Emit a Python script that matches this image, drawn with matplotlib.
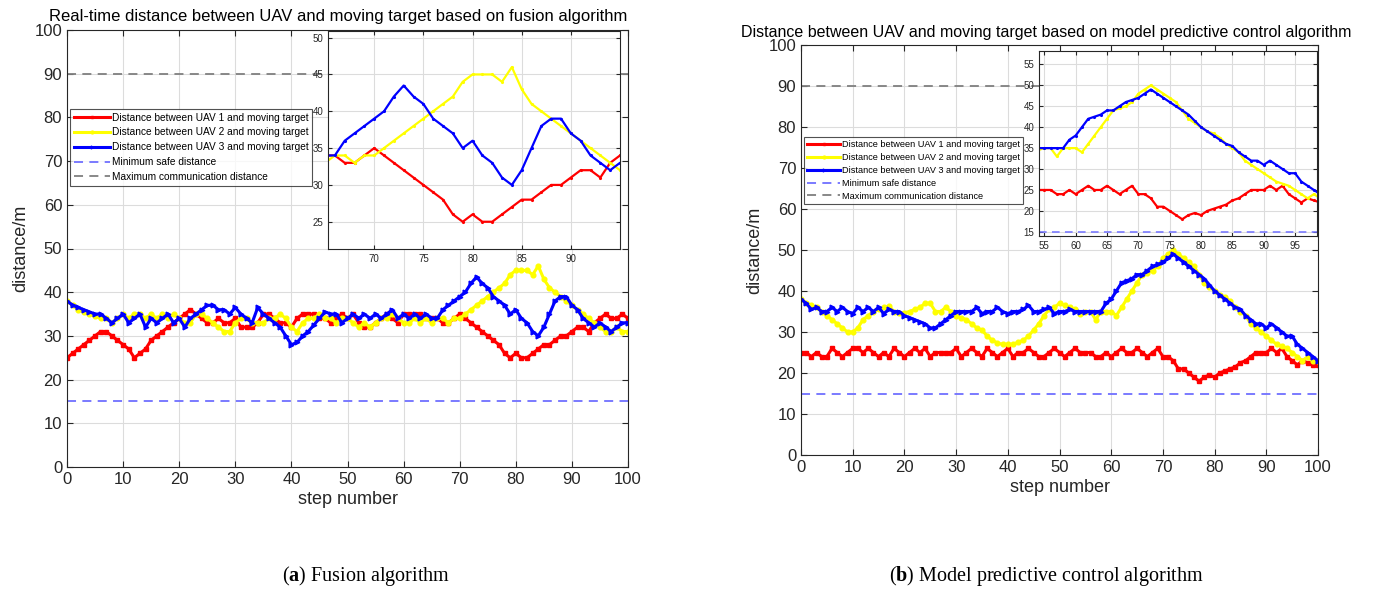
import numpy as np
import matplotlib.pyplot as plt

plt.rcParams['font.family'] = ['Liberation Sans', 'DejaVu Sans']
plt.rcParams['mathtext.fontset'] = 'custom'
plt.rcParams['mathtext.rm'] = 'Liberation Serif'
plt.rcParams['mathtext.bf'] = 'Liberation Serif:bold'

steps = np.arange(0, 101)

# (a) fusion algorithm
fus_uav1 = [25, 26, 27, 28, 29, 30, 31, 31, 30, 29,
            28, 27, 25, 26, 27, 29, 30, 31, 32, 33,
            34, 35, 36, 35, 34, 33, 33, 34, 33, 33,
            34, 32, 32, 32, 33, 35, 35, 34, 33, 33,
            32, 34, 35, 35, 35, 34, 34, 33, 34, 35,
            34, 35, 33, 32, 32, 33, 34, 35, 34, 33,
            35, 35, 35, 35, 34, 34, 34, 33, 33, 34,
            35, 34, 33, 32, 31, 30, 29, 28, 26, 25,
            26, 25, 25, 26, 27, 28, 28, 29, 30, 30,
            31, 32, 32, 31, 33, 34, 35, 34, 34, 35, 34]
fus_uav2 = [38, 37, 36, 35.5, 35, 34.5, 34, 34, 33, 34,
            35, 34, 35, 35, 34, 35, 34, 35, 34, 35,
            34, 33, 33, 35, 35, 34, 33, 32, 31, 31,
            33, 34, 34, 33, 33, 33, 34, 34, 35, 34,
            32, 31, 33, 34, 34, 35, 34, 34, 33, 34,
            34, 33, 32, 33, 32, 33, 34, 34, 35, 34,
            33, 33, 34, 33, 34, 33, 34, 34, 33, 34,
            34, 35, 36, 37, 38, 39, 40, 41, 42, 44,
            45, 45, 45, 44, 46, 43, 41, 40, 39, 38,
            37, 36, 35, 34, 33, 32, 31, 31, 32, 31, 31]
fus_uav3 = [38, 37, 36.5, 36, 35.5, 35, 35, 34, 33, 34,
            35, 33, 34, 35, 32, 34, 33, 34, 35, 33,
            34, 32, 34, 35, 36, 37, 37, 36, 36, 35,
            36.5, 35, 34, 33, 36.5, 35, 34, 33, 32, 30,
            28, 28.5, 30, 31, 32.5, 34, 35.5, 35, 35, 33,
            34, 35, 34, 35, 34, 35, 34, 35, 36, 34,
            35, 34, 35, 34, 35, 34, 34, 36, 37, 38,
            39, 40, 42, 43.5, 42, 41, 39, 38, 37, 35,
            36, 34, 33, 31, 30, 32, 35, 38, 39, 39,
            37, 36, 34, 33, 32, 33, 32, 31, 32, 33, 33]

# (b) model predictive control algorithm
mpc_uav1 = [25, 25, 24, 25, 24, 24, 26, 25, 24, 25,
            26, 26, 25, 26, 25, 24, 25, 24, 26, 25,
            24, 25, 26, 25, 26, 24, 25, 25, 25, 25,
            26, 24, 25, 26, 25, 24, 26, 25, 24, 25,
            26, 24, 25, 25, 26, 25, 24, 24, 25, 26,
            25, 24, 25, 26, 25, 25, 25, 24, 24, 25,
            24, 25, 26, 25, 25, 26, 25, 24, 25, 26,
            24, 24, 23, 21, 21, 20, 19, 18, 19, 19.5,
            19, 20, 20.5, 21, 21.5, 22.5, 23, 24, 25, 25,
            25, 26, 25, 26, 24, 23, 22, 23, 22.5, 22, 22]
mpc_uav2 = [38, 37, 36.5, 36, 35, 34, 33, 32, 31, 30,
            30, 31, 33, 34, 35, 35.5, 36, 36.3, 35, 34.7,
            34.7, 35, 35.5, 36, 37, 37, 35, 35, 36, 35,
            34, 33.5, 33, 32, 31, 30.5, 29, 28, 27.3, 27,
            27, 27, 27.5, 28, 29, 30.5, 32, 34, 35.5, 36,
            37, 36.5, 36, 35.5, 34.5, 35, 35, 33, 35, 35,
            35, 34, 36, 38, 40, 42, 44, 44.5, 45, 46,
            48, 49, 50, 49, 48, 47, 46, 44, 42, 41,
            40, 39, 38.5, 37.5, 36, 35, 34, 32, 31, 30,
            29, 28, 27, 26.5, 26, 25, 24, 23, 24, 23, 23]
mpc_uav3 = [38, 37, 35.5, 36, 35, 35, 36, 35, 36, 35,
            34.5, 36, 35, 36, 35, 36, 34.5, 35.5, 35, 35,
            34, 33.5, 33, 32.5, 32, 31, 31, 32, 33, 34,
            35, 35, 35, 35, 36, 34.5, 35, 35, 36, 35,
            34.5, 35, 35, 35.5, 36.5, 35, 35, 35.5, 36, 34.5,
            35, 35, 35.5, 35, 35, 35, 35, 35, 35, 37,
            38, 40, 42, 42.5, 43, 44, 44, 45, 46, 46.5,
            47, 48, 49, 48, 47, 46, 45, 44, 43, 41.5,
            40, 39, 38, 37, 36, 35.5, 34, 33, 32, 32,
            31, 32, 31, 30, 29, 29, 27, 26, 25, 24, 23]

min_safe = 15
max_comm = 90

labels = ['Distance between UAV 1 and moving target',
          'Distance between UAV 2 and moving target',
          'Distance between UAV 3 and moving target',
          'Minimum safe distance',
          'Maximum communication distance']
colors = ['#ff0000', '#ffff00', '#0000ff']
markers = ['s', 'o', '>']
tick_col = '#262626'

W, H = 1397, 594
fig = plt.figure(figsize=(W / 100, H / 100), dpi=100)


def px_axes(x0, y0, x1, y1):
    return fig.add_axes([x0 / W, 1 - y1 / H, (x1 - x0) / W, (y1 - y0) / H])


def style(ax, fs):
    ax.grid(True, color='#dcdcdc', linewidth=0.8)
    ax.set_axisbelow(True)
    ax.tick_params(direction='in', top=True, right=True, labelsize=fs,
                   colors=tick_col, length=4)
    for s in ax.spines.values():
        s.set_color('#262626')
        s.set_linewidth(0.8)


def panel(main_box, ins_box, series, ins_xlim, ins_ylim, ins_xt, ins_yt,
          leg_xy, leg_fs, leg_sp):
    ax = px_axes(*main_box)
    hs = []
    for y, c, m, lab in zip(series, colors, markers, labels[:3]):
        h, = ax.plot(steps, y, color=c, lw=2.2, marker=m, ms=3.4,
                     mec=c, mfc=c, label=lab)
        hs.append(h)
    h4 = ax.axhline(min_safe, color='#7070ff', lw=1.3, ls=(0, (5, 3.5)),
                    label=labels[3])
    h5 = ax.axhline(max_comm, color='#7f7f7f', lw=1.3, ls=(0, (5, 3.5)),
                    label=labels[4])
    ax.set_xlim(0, 100)
    ax.set_ylim(0, 100)
    ax.set_xticks(np.arange(0, 101, 10))
    ax.set_yticks(np.arange(0, 101, 10))
    style(ax, 12)
    ax.set_xlabel('step number', fontsize=13, color=tick_col, labelpad=3)
    ax.set_ylabel('distance/m', fontsize=13, color=tick_col, labelpad=4)
    leg = ax.legend(handles=hs + [h4, h5], loc='upper left',
                    bbox_to_anchor=(leg_xy[0] / W, 1 - leg_xy[1] / H),
                    bbox_transform=fig.transFigure, fontsize=leg_fs,
                    frameon=True, fancybox=False, borderaxespad=0,
                    handlelength=3.6, handletextpad=0.2, labelspacing=leg_sp,
                    borderpad=0.35, markerscale=0.6)
    leg.get_frame().set_edgecolor('#262626')
    leg.get_frame().set_linewidth(0.8)

    ins = px_axes(*ins_box)
    for y, c in zip(series, colors):
        ins.plot(steps, y, color=c, lw=1.6, marker='.', ms=2.5)
    ins.axhline(min_safe, color='#7070ff', lw=1.1, ls=(0, (5, 3.5)))
    ins.set_xlim(*ins_xlim)
    ins.set_ylim(*ins_ylim)
    ins.set_xticks(ins_xt)
    ins.set_yticks(ins_yt)
    style(ins, 7)
    ins.tick_params(length=3)
    return ax


panel((67, 30, 628, 467), (328, 31, 620, 249),
      [fus_uav1, fus_uav2, fus_uav3], (65.3, 95), (21.3, 50.9),
      np.arange(70, 91, 5), np.arange(25, 51, 5), (70, 109), 7.3, 0.48)
panel((801, 45, 1318, 455), (1039, 51, 1317, 236),
      [mpc_uav1, mpc_uav2, mpc_uav3], (54.15, 98.5), (14, 58.2),
      np.arange(55, 96, 5), np.arange(15, 56, 5), (804, 137), 6.6, 0.42)

fig.text(338 / W, 1 - 17 / H,
         'Real-time distance between UAV and moving target based on fusion algorithm',
         ha='center', va='center', fontsize=12, color='#000000')
fig.text(1046 / W, 1 - 32 / H,
         'Distance between UAV and moving target based on model predictive control algorithm',
         ha='center', va='center', fontsize=11.5, color='#000000')

fig.text(366 / W, 1 - 576 / H, r'($\mathbf{a}$) Fusion algorithm',
         ha='center', va='center', fontsize=14.5, family='Liberation Serif')
fig.text(1046 / W, 1 - 576 / H,
         r'($\mathbf{b}$) Model predictive control algorithm',
         ha='center', va='center', fontsize=14.5, family='Liberation Serif')

fig.savefig('out.png', dpi=100)
